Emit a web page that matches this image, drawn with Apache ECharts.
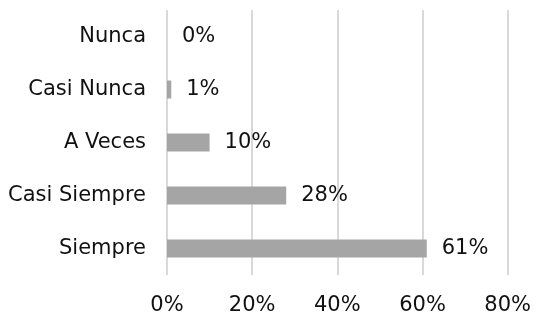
<!DOCTYPE html>
<html>
<head>
<meta charset="utf-8">
<script src="https://cdn.jsdelivr.net/npm/echarts@6/dist/echarts.min.js"></script>
<style>
  html, body { margin: 0; padding: 0; background: #fff; }
  #chart { width: 534px; height: 316px; }
</style>
</head>
<body>
<div id="chart"></div>
<script>
// categories top to bottom as shown
const categorias = ['Nunca', 'Casi Nunca', 'A Veces', 'Casi Siempre', 'Siempre']
const porcentajes = [0, 1, 10, 28, 61]
const ticksX = [0, 20, 40, 60, 80]

const myChart = echarts.init(document.getElementById('chart'))
const fuente = 'DejaVu Sans, Verdana, sans-serif'
const option = {
  animation: false,
  grid: {
    top: 10,
    left: 167,
    right: 26,
    bottom: 41
  },
  xAxis: {
    type: 'value',
    min: ticksX[0],
    max: ticksX[ticksX.length - 1],
    interval: 20,
    axisLine: { show: false },
    axisTick: { show: false },
    axisLabel: {
      margin: 20,
      color: '#111',
      fontFamily: fuente,
      fontSize: 21,
      formatter: '{value}%'
    },
    splitLine: {
      show: true,
      lineStyle: { color: '#d9d9d9', width: 2 }
    }
  },
  yAxis: {
    type: 'category',
    inverse: true,
    data: categorias,
    axisLine: { show: false },
    axisTick: { show: false },
    axisLabel: {
      margin: 21,
      color: '#111',
      fontFamily: fuente,
      fontSize: 21,
      padding: [3, 0, 0, 0]
    }
  },
  series: [
    {
      type: 'bar',
      data: porcentajes,
      barWidth: 18,
      itemStyle: { color: '#a5a5a5' },
      label: {
        show: true,
        position: 'right',
        distance: 15,
        color: '#111',
        fontFamily: fuente,
        fontSize: 21,
        padding: [3, 0, 0, 0],
        formatter: '{c}%'
      }
    }
  ]
}
myChart.setOption(option)
</script>
</body>
</html>
